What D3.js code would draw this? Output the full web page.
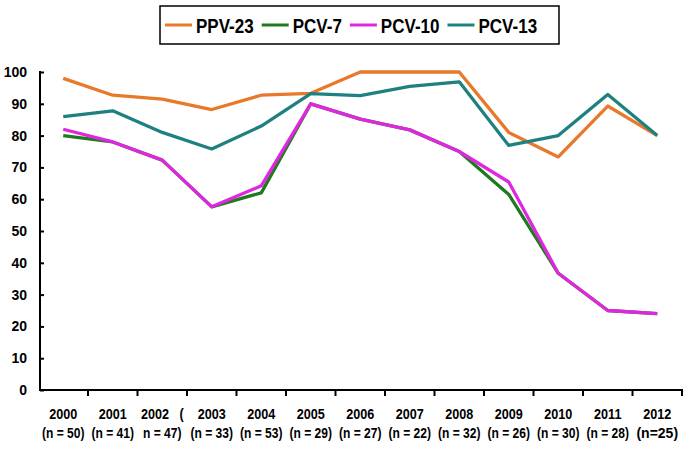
<!DOCTYPE html>
<html><head><meta charset="utf-8">
<script src="https://cdn.jsdelivr.net/npm/d3@7"></script>
<style>
html,body{margin:0;padding:0;background:#fff;}
svg{display:block;font-family:"Liberation Sans",Arial,sans-serif;font-weight:bold;}
</style></head>
<body>
<svg id="chart" width="685" height="454"></svg>
<script>
const years = ["2000","2001","2002","2003","2004","2005","2006","2007","2008","2009","2010","2011","2012"];
const yearLabels = ["2000","2001","2002   (","2003","2004","2005","2006","2007","2008","2009","2010","2011","2012"];
const nLabels = ["(n = 50)","(n = 41)","n = 47)","(n = 33)","(n = 53)","(n = 29)","(n = 27)","(n = 22)","(n = 32)","(n = 26)","(n = 30)","(n = 28)","(n=25)"];
const yTicks = [0,10,20,30,40,50,60,70,80,90,100];
const seriesNames = ["PPV-23","PCV-7","PCV-10","PCV-13"];
const ppv23 = [98,92.7,91.5,88.2,92.7,93.3,100,100,100,81,73.3,89.3,80];
const pcv7  = [80,78,72.3,57.6,62,90,85.2,81.8,75,61.5,36.7,25,24];
const pcv10 = [82,78,72.3,57.6,64.2,90,85.2,81.8,75,65.4,36.7,25,24];
const pcv13 = [86,87.8,81,75.8,83,93.2,92.6,95.5,96.9,76.9,80,92.9,80];
const seriesValues = [ppv23, pcv7, pcv10, pcv13];
const colors = ["#E8792A","#1F7A1F","#E027E0","#1F8080"];

const svg = d3.select("#chart");
const x = d3.scaleBand().domain(years).range([38.5, 682]).padding(0);
const y = d3.scaleLinear().domain([0,100]).range([390, 72]);
const cx = d => x(d) + x.bandwidth()/2;

// y axis
const yAxis = svg.append("g").attr("transform","translate(40,0)")
  .call(d3.axisLeft(y).tickValues(yTicks).tickSizeInner(-4).tickSizeOuter(0).tickPadding(13));
yAxis.select(".domain").attr("stroke","#000").attr("stroke-width",2).attr("d","M0,71V391");
yAxis.selectAll(".tick line").attr("stroke","#000").attr("stroke-width",2);
yAxis.selectAll(".tick text").attr("font-size",14).attr("font-weight","bold")
  .attr("font-family","Liberation Sans, Arial, sans-serif").attr("fill","#000");

// x axis line and boundary ticks
const xg = svg.append("g");
xg.append("line").attr("x1",39).attr("x2",683).attr("y1",y(0)).attr("y2",y(0))
  .attr("stroke","#000").attr("stroke-width",2);
xg.selectAll("line.tk").data(years).join("line").attr("class","tk")
  .attr("x1",d=>x(d)+x.bandwidth()).attr("x2",d=>x(d)+x.bandwidth())
  .attr("y1",y(0)).attr("y2",y(0)+6).attr("stroke","#000").attr("stroke-width",2);
const yr = xg.selectAll("text.yr").data(years).join("text").attr("class","yr")
  .attr("x",d=>cx(d)).attr("y",419).attr("text-anchor","middle").attr("font-size",14)
  .style("white-space","pre").attr("xml:space","preserve")
  .text((d,i)=>yearLabels[i]);
yr.each(function(){
  const w = this.getComputedTextLength()*0.9;
  d3.select(this).attr("textLength",w).attr("lengthAdjust","spacingAndGlyphs");
});
const nn = xg.selectAll("text.nn").data(years).join("text").attr("class","nn")
  .attr("x",d=>cx(d)).attr("y",438).attr("text-anchor","middle").attr("font-size",14)
  .style("white-space","pre").attr("xml:space","preserve")
  .text((d,i)=>nLabels[i]);
nn.each(function(d,i){
  const f = nLabels[i].indexOf(" ")>=0 ? 0.86 : 1.0;
  const w = this.getComputedTextLength()*f;
  d3.select(this).attr("textLength",w).attr("lengthAdjust","spacingAndGlyphs");
});

// lines
const line = d3.line().x((d,i)=>cx(years[i])).y(d=>y(d));
seriesValues.forEach((vals,k)=>{
  svg.append("path").datum(vals).attr("d",line).attr("fill","none")
    .attr("stroke",colors[k]).attr("stroke-width",3.3).attr("stroke-linejoin","round");
});

// legend
const lg = svg.append("g");
lg.append("rect").attr("x",160).attr("y",6).attr("width",399).attr("height",38)
  .attr("fill","#fff").attr("stroke","#000").attr("stroke-width",1.5);
let lx = 165;
seriesNames.forEach((name,k)=>{
  lg.append("line").attr("x1",lx).attr("x2",lx+27).attr("y1",25).attr("y2",25)
    .attr("stroke",colors[k]).attr("stroke-width",3);
  const t = lg.append("text").attr("x",lx+31).attr("y",33).attr("font-size",21).text(name);
  const w = t.node().getComputedTextLength()*0.81;
  t.attr("textLength",w).attr("lengthAdjust","spacingAndGlyphs");
  lx = lx + 31 + w + 8;
});
</script>
</body></html>
